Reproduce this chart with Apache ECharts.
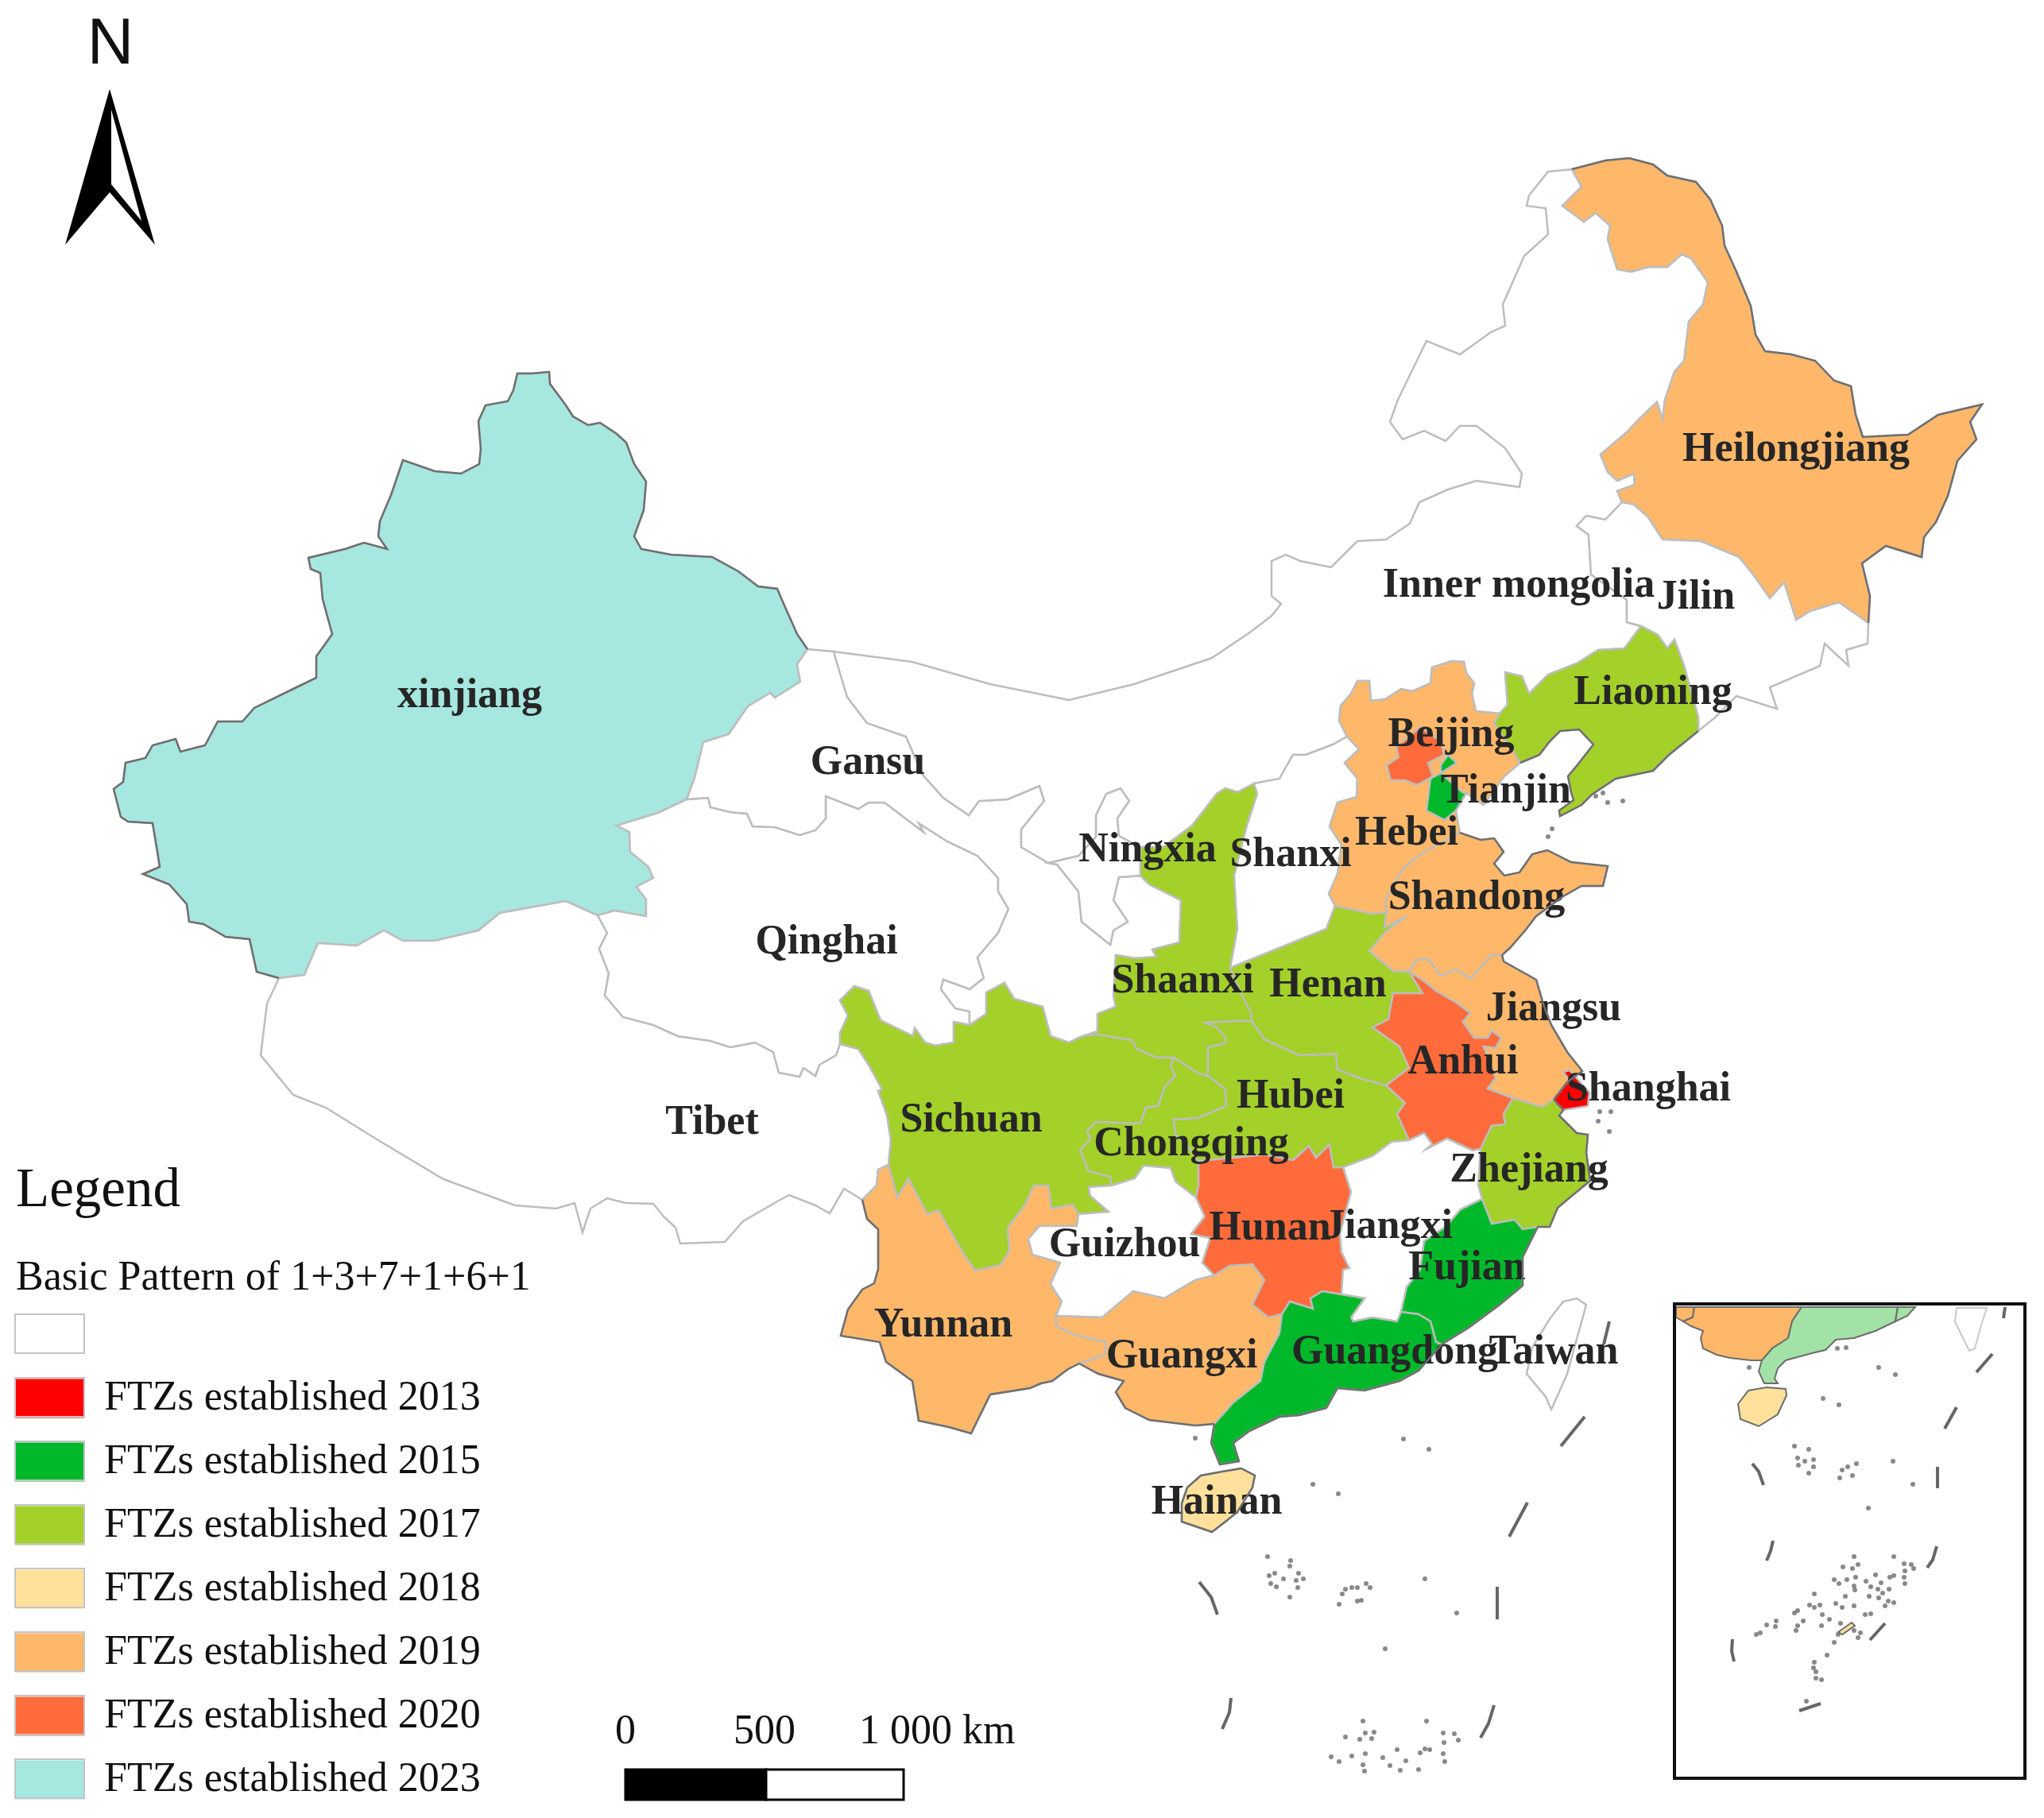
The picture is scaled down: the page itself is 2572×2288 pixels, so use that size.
<!DOCTYPE html>
<html>
<head>
<meta charset="utf-8">
<title>FTZ map</title>
<script src="https://cdn.jsdelivr.net/npm/echarts@6/dist/echarts.min.js"></script>
<style>
  html, body { margin: 0; padding: 0; background: #fff; }
  #main { width: 2572px; height: 2288px; }
</style>
</head>
<body>
<div id="main"></div>
<script>
// legend
const legendYears = [0, 2013, 2015, 2017, 2018, 2019, 2020, 2023]
const legendLabels = [' ', 'FTZs established 2013', 'FTZs established 2015', 'FTZs established 2017', 'FTZs established 2018', 'FTZs established 2019', 'FTZs established 2020', 'FTZs established 2023']
const legendColors = ['#ffffff', '#ff0000', '#00b82a', '#a3d029', '#ffe19c', '#ffb86a', '#ff6b3b', '#a6e7e0']

// year each province got its zone, 0 = none
const provinceNames = ['xinjiang', 'Tibet', 'Qinghai', 'Gansu', 'Ningxia', 'Inner mongolia', 'Shaanxi', 'Shanxi', 'Sichuan', 'Chongqing', 'Yunnan', 'Guizhou', 'Guangxi', 'Hunan', 'Hubei', 'Henan', 'Hebei', 'Shandong', 'Anhui', 'Jiangsu', 'Zhejiang', 'Jiangxi', 'Fujian', 'Guangdong', 'Heilongjiang', 'Jilin', 'Liaoning', 'Beijing', 'Tianjin', 'Shanghai', 'Hainan', 'Taiwan']
const provinceYears = [2023, 0, 0, 0, 0, 0, 2017, 0, 2017, 2017, 2019, 0, 2019, 2020, 2017, 2017, 2019, 2019, 2020, 2019, 2017, 0, 2015, 2015, 2019, 0, 2017, 2020, 2015, 2013, 2018, 0]

// where each province name sits on the picture
const labelSpots = {
  'xinjiang': [591, 877], 'Tibet': [896, 1414], 'Qinghai': [1040, 1187], 'Gansu': [1092, 961], 'Ningxia': [1444, 1071],
  'Inner mongolia': [1911, 738], 'Shaanxi': [1488, 1236], 'Shanxi': [1624, 1077], 'Sichuan': [1222, 1411], 'Chongqing': [1499, 1441],
  'Yunnan': [1187, 1669], 'Guizhou': [1415, 1568], 'Guangxi': [1487, 1708], 'Hunan': [1598, 1547], 'Hubei': [1624, 1381],
  'Henan': [1671, 1241], 'Hebei': [1770, 1050], 'Shandong': [1858, 1131], 'Anhui': [1841, 1338], 'Jiangsu': [1955, 1271],
  'Zhejiang': [1924, 1474], 'Jiangxi': [1747, 1545], 'Fujian': [1846, 1597], 'Guangdong': [1755, 1703], 'Heilongjiang': [2260, 567],
  'Jilin': [2134, 753], 'Liaoning': [2080, 873], 'Beijing': [1826, 926], 'Tianjin': [1895, 997], 'Shanghai': [2074, 1372],
  'Hainan': [1531, 1892], 'Taiwan': [1955, 1703]
}

// province borders, in image pixels; shared borders are one arc
const arcs = {
  xjOuter: [[1016,817],[1003,798],[987,762],[978,741],[954,738],[929,719],[896,701],[844,698],[807,691],[798,675],[810,642],[813,606],[798,584],[788,557],[776,546],[755,532],[740,535],[721,524],[712,510],[692,483],[691,468],[669,470],[651,470],[646,491],[639,505],[611,510],[602,530],[605,565],[603,584],[580,596],[547,593],[507,579],[492,623],[478,656],[476,675],[487,691],[458,683],[434,691],[388,702],[391,716],[403,721],[406,754],[418,798],[406,815],[398,826],[398,853],[369,867],[320,891],[305,908],[274,908],[258,938],[227,946],[221,930],[192,938],[183,954],[158,960],[155,984],[143,993],[152,1028],[161,1034],[192,1036],[198,1072],[201,1091],[180,1100],[213,1113],[235,1138],[238,1160],[256,1163],[284,1179],[314,1182],[323,1223],[351,1231]],
  xjTibet: [[351,1231],[383,1227],[400,1187],[449,1190],[483,1171],[507,1184],[547,1184],[602,1171],[629,1149],[712,1134],[752,1152]],
  xjQinghai: [[752,1152],[773,1146],[813,1153],[813,1132],[801,1116],[822,1105],[816,1091],[793,1072],[792,1047],[776,1039],[828,1023],[864,1006]],
  xjGansu: [[864,1006],[874,979],[885,934],[917,924],[941,889],[969,872],[975,878],[1007,858],[1003,836],[1016,817]],
  tibetOuter: [[351,1231],[336,1263],[328,1328],[369,1378],[410,1394],[476,1435],[558,1484],[648,1517],[700,1521],[723,1514],[733,1551],[743,1521],[764,1508],[787,1514],[822,1515],[835,1531],[850,1545],[856,1565],[912,1563],[935,1537],[978,1512],[993,1504],[1026,1517],[1044,1527],[1062,1496],[1085,1510]],
  tibetYunnan: [[1085,1510],[1103,1492],[1105,1472],[1118,1466]],
  tibetSichuan: [[1118,1466],[1121,1435],[1116,1403],[1105,1373],[1110,1371],[1093,1340],[1080,1320],[1057,1314]],
  tibetQinghai: [[1057,1314],[1052,1328],[1031,1340],[1026,1354],[1011,1344],[1006,1355],[980,1350],[973,1324],[950,1312],[919,1318],[894,1310],[853,1304],[822,1290],[784,1280],[761,1253],[766,1225],[754,1194],[764,1174],[752,1152]],
  qinghaiGansu: [[864,1006],[891,1004],[894,1016],[919,1022],[940,1024],[947,1040],[975,1041],[1006,1051],[1026,1045],[1039,1030],[1039,1002],[1080,1018],[1093,1010],[1113,1010],[1154,1041],[1162,1047],[1156,1036],[1192,1059],[1230,1077],[1256,1105],[1256,1122],[1269,1144],[1256,1174],[1230,1205],[1238,1231],[1220,1245],[1187,1233],[1184,1245],[1202,1269],[1220,1273],[1220,1290]],
  qinghaiSichuan: [[1057,1314],[1057,1300],[1067,1278],[1057,1259],[1075,1241],[1093,1247],[1108,1284],[1149,1304],[1151,1294],[1164,1312],[1177,1316],[1200,1312],[1200,1286],[1220,1290]],
  gansuNorth: [[1016,817],[1049,820]],
  gansuIM: [[1049,820],[1066,877],[1091,910],[1140,927],[1161,975],[1187,1004],[1219,1026],[1232,1008],[1268,1006],[1308,989],[1314,1008],[1285,1044],[1285,1066],[1319,1086]],
  nxGansu: [[1435,1102],[1408,1104],[1401,1133],[1419,1160],[1401,1171],[1397,1189],[1361,1160],[1357,1122],[1330,1088],[1319,1086]],
  gansuShaanxi: [[1435,1102],[1446,1113],[1486,1133],[1484,1186],[1450,1195],[1455,1204],[1428,1206],[1404,1202],[1401,1253],[1404,1267],[1381,1276],[1381,1298],[1363,1304]],
  gansuSichuan: [[1220,1290],[1241,1276],[1241,1249],[1264,1237],[1276,1257],[1312,1267],[1322,1304],[1345,1312],[1363,1304]],
  imNingxia: [[1319,1086],[1357,1077],[1379,1053],[1379,1026],[1392,999],[1410,992],[1421,1008],[1406,1030],[1408,1052],[1435,1066]],
  nxShaanxi: [[1435,1066],[1435,1102]],
  imShaanxi: [[1435,1066],[1464,1066],[1500,1039],[1531,999],[1542,992],[1557,997],[1578,986]],
  shaanxiShanxi: [[1578,986],[1582,999],[1569,1039],[1553,1102],[1557,1169],[1548,1218]],
  shaanxiHenan: [[1548,1218],[1560,1247],[1575,1276],[1575,1285]],
  shaanxiHubei: [[1575,1285],[1555,1285],[1517,1287],[1531,1293],[1542,1305],[1542,1313],[1520,1318],[1520,1354]],
  sichuanShaanxi: [[1363,1304],[1381,1302],[1424,1309],[1430,1320],[1455,1331],[1477,1331]],
  shaanxiChongqing: [[1477,1331],[1508,1351],[1520,1354]],
  sichuanChongqing: [[1477,1331],[1473,1342],[1479,1354],[1466,1367],[1457,1392],[1442,1394],[1435,1414],[1379,1412],[1368,1423],[1372,1434],[1359,1447],[1370,1474],[1397,1481],[1399,1492]],
  sichuanGuizhou: [[1399,1492],[1370,1494],[1372,1505],[1395,1525],[1357,1528]],
  sichuanYunnan: [[1357,1528],[1350,1516],[1323,1521],[1319,1492],[1301,1492],[1290,1516],[1268,1545],[1270,1574],[1259,1592],[1227,1599],[1210,1574],[1181,1523],[1167,1528],[1143,1483],[1129,1507],[1118,1466]],
  yunnanOuter: [[1085,1510],[1091,1534],[1105,1547],[1105,1597],[1100,1615],[1085,1623],[1067,1648],[1058,1681],[1107,1689],[1115,1714],[1148,1738],[1156,1788],[1194,1796],[1222,1804],[1246,1755],[1296,1747],[1310,1741],[1324,1738],[1344,1723],[1358,1716]],
  yunnanGuangxi: [[1358,1716],[1390,1705],[1392,1689],[1353,1680],[1329,1669],[1329,1656]],
  yunnanGuizhou: [[1329,1656],[1336,1638],[1322,1616],[1334,1589],[1299,1579],[1294,1559],[1308,1543],[1355,1543],[1357,1528]],
  chongqingHubei: [[1520,1354],[1526,1358],[1542,1371],[1543,1392],[1508,1407],[1477,1409],[1479,1427],[1497,1445],[1508,1461]],
  chongqingHunan: [[1508,1461],[1508,1492],[1505,1507]],
  chongqingGuizhou: [[1505,1507],[1479,1487],[1473,1470],[1439,1467],[1428,1483],[1399,1492]],
  guizhouGuangxi: [[1329,1656],[1387,1658],[1426,1625],[1465,1634],[1504,1611],[1528,1605]],
  hunanGuizhou: [[1505,1507],[1516,1531],[1499,1553],[1523,1558],[1513,1589],[1528,1605]],
  guangxiHunan: [[1528,1605],[1547,1593],[1576,1591],[1591,1611],[1576,1642],[1596,1658],[1613,1654]],
  hunanGuangdong: [[1688,1629],[1664,1625],[1649,1634],[1652,1647],[1623,1638],[1613,1654]],
  hunanJiangxi: [[1690,1469],[1700,1500],[1686,1553],[1688,1576],[1698,1596],[1690,1598],[1688,1629]],
  hubeiHunan: [[1508,1461],[1591,1453],[1627,1460],[1647,1442],[1656,1457],[1673,1440],[1678,1469],[1690,1469]],
  hubeiJiangxi: [[1690,1469],[1727,1455],[1751,1437],[1773,1435]],
  hubeiAnhui: [[1744,1366],[1768,1388],[1758,1402],[1773,1435]],
  henanHubei: [[1744,1366],[1712,1357],[1683,1346],[1681,1326],[1635,1328],[1591,1308],[1575,1285]],
  imShanxi: [[1578,986],[1610,980],[1627,950],[1643,950],[1677,937],[1695,927]],
  shanxiHebei: [[1695,927],[1710,943],[1692,960],[1708,980],[1707,1003],[1683,1010],[1673,1040],[1688,1063],[1683,1100],[1672,1125],[1680,1140]],
  shanxiHenan: [[1680,1140],[1669,1169],[1615,1191],[1548,1218]],
  henanAnhui: [[1773,1223],[1790,1250],[1753,1250],[1747,1283],[1727,1293],[1761,1317],[1773,1344],[1744,1366]],
  henanShandong: [[1745,1148],[1742,1167],[1770,1153],[1743,1173],[1723,1197],[1753,1222],[1773,1223]],
  hebeiHenan: [[1680,1140],[1727,1150],[1745,1148]],
  imHebei: [[1695,927],[1685,907],[1687,888],[1700,873],[1708,857],[1723,857],[1725,882],[1743,880],[1763,867],[1777,870],[1800,860],[1802,840],[1827,832],[1842,833],[1845,847],[1855,860],[1852,873],[1857,895],[1887,898]],
  liaoningHebei: [[1887,898],[1880,910],[1907,950],[1913,960]],
  hebeiCoast: [[1913,960],[1893,977],[1867,1013],[1845,998],[1832,1020],[1837,1048]],
  hebeiShandong: [[1745,1148],[1743,1133],[1763,1097],[1777,1083],[1797,1070],[1837,1048]],
  shandongCoast: [[1837,1048],[1863,1057],[1880,1055],[1892,1072],[1880,1087],[1893,1102],[1912,1098],[1928,1075],[1947,1070],[1977,1085],[2023,1090],[2017,1115],[1990,1115],[1967,1128],[1933,1153],[1920,1170],[1900,1193],[1890,1202]],
  jiangsuShandong: [[1773,1223],[1782,1208],[1797,1207],[1813,1228],[1833,1220],[1850,1232],[1877,1202],[1890,1202]],
  anhuiJiangsu: [[1773,1223],[1790,1233],[1807,1247],[1833,1262],[1850,1275],[1841,1286],[1855,1306],[1872,1306],[1877,1297],[1889,1306],[1882,1319],[1867,1317],[1882,1357],[1872,1370],[1904,1382]],
  anhuiZhejiang: [[1904,1382],[1892,1402],[1894,1415],[1877,1417],[1863,1446]],
  jiangxiAnhui: [[1773,1435],[1792,1426],[1802,1440],[1795,1446],[1821,1433],[1853,1448],[1863,1446]],
  jiangsuCoast: [[1890,1202],[1892,1210],[1933,1233],[1943,1267],[1952,1290],[1972,1324],[1991,1348],[1972,1362],[1955,1384]],
  jiangsuZhejiang: [[1904,1382],[1940,1393],[1955,1384]],
  zhejiangCoast: [[1955,1384],[1967,1397],[1962,1404],[1984,1426],[1998,1428],[1996,1451],[2001,1486],[1979,1504],[1960,1520],[1950,1544],[1935,1544]],
  fujianZhejiang: [[1865,1509],[1877,1540],[1906,1535],[1916,1547],[1935,1544]],
  jiangxiZhejiang: [[1863,1446],[1860,1491],[1865,1509]],
  jiangxiFujian: [[1865,1509],[1838,1522],[1819,1544],[1792,1562],[1787,1598],[1770,1620],[1763,1651]],
  jiangxiGuangdong: [[1763,1651],[1758,1663],[1727,1658],[1703,1663],[1700,1658],[1717,1634],[1688,1629]],
  fujianCoast: [[1935,1544],[1916,1582],[1916,1618],[1887,1642],[1848,1671],[1814,1692]],
  fujianGuangdong: [[1763,1651],[1785,1654],[1800,1663],[1807,1689],[1814,1692]],
  guangdongCoast: [[1814,1692],[1785,1725],[1761,1738],[1717,1750],[1683,1747],[1669,1772],[1635,1781],[1610,1783],[1572,1801],[1552,1816],[1559,1839],[1535,1843],[1524,1816],[1528,1792]],
  guangdongGuangxi: [[1528,1792],[1552,1765],[1586,1738],[1591,1714],[1610,1678],[1613,1654]],
  guangxiCoast: [[1528,1792],[1504,1794],[1446,1787],[1416,1772],[1404,1752],[1414,1738],[1382,1729],[1358,1716]],
  imOuter: [[1049,820],[1148,833],[1246,861],[1345,881],[1427,861],[1525,828],[1574,795],[1600,775],[1612,760],[1600,750],[1600,706],[1618,698],[1636,706],[1675,714],[1708,681],[1744,679],[1774,659],[1786,632],[1822,616],[1858,605],[1912,613],[1915,596],[1894,564],[1858,536],[1837,536],[1819,555],[1792,542],[1765,553],[1749,531],[1759,503],[1795,429],[1837,446],[1876,418],[1894,410],[1891,383],[1918,322],[1948,295],[1945,262],[1921,259],[1924,246],[1948,216],[1978,213]],
  imHei: [[1978,213],[1990,235],[1966,259],[1993,279],[2008,268],[2026,284],[2023,301],[2035,339],[2053,342],[2074,336],[2098,336],[2116,320],[2128,325],[2149,355],[2143,383],[2125,405],[2119,454],[2107,468],[2095,503],[2092,528],[2085,506],[2062,528],[2047,544],[2014,572],[2023,594],[2035,605],[2056,596],[2057,610],[2035,618],[2041,632]],
  heiOuter: [[1978,213],[2020,202],[2050,199],[2080,207],[2098,221],[2134,229],[2152,251],[2167,284],[2170,309],[2185,342],[2203,385],[2209,421],[2221,442],[2254,446],[2284,454],[2308,479],[2329,486],[2335,522],[2344,550],[2401,547],[2439,522],[2494,509],[2479,531],[2487,553],[2463,580],[2451,624],[2436,657],[2421,676],[2418,701],[2373,687],[2343,709],[2353,750],[2351,784]],
  heiJilin: [[2351,784],[2314,758],[2278,769],[2260,780],[2245,733],[2227,753],[2206,723],[2188,701],[2140,681],[2092,679],[2074,651],[2056,635],[2041,632]],
  imJilin: [[2041,632],[2020,654],[1996,649],[1984,662],[1999,673],[2002,723],[2047,755],[2047,783],[2065,788]],
  jilinOuter: [[2351,784],[2350,810],[2323,818],[2326,838],[2296,810],[2290,838],[2227,865],[2236,892],[2185,876],[2158,903],[2137,920]],
  jilinLiaoning: [[2065,788],[2086,799],[2098,816],[2107,805],[2119,838],[2137,903],[2137,920]],
  imLiaoning: [[2065,788],[2044,816],[2011,818],[1984,835],[1948,849],[1924,873],[1915,851],[1894,846],[1897,887],[1887,898]],
  liaoningCoast: [[2137,920],[2100,950],[2080,970],[2033,980],[2003,1000],[1990,1013],[1963,1027],[1962,1020],[1980,1007],[1977,997],[1973,977],[1987,960],[2005,937],[1987,918],[1963,920],[1950,933],[1937,950],[1913,960]],
  beijingRing: [[1787,915],[1813,933],[1817,950],[1797,960],[1803,977],[1783,988],[1768,982],[1750,982],[1745,963],[1760,953],[1757,940],[1787,915]],
  tianjinRing: [[1822,950],[1833,960],[1813,973],[1840,997],[1845,998],[1832,1020],[1818,1032],[1795,1020],[1800,980],[1813,973],[1813,963],[1822,950]],
  shanghaiRing: [[1967,1349],[1975,1347],[2000,1375],[1998,1392],[1967,1397],[1955,1384],[1972,1362],[1980,1366],[1967,1349]],
  hainanRing: [[1562,1848],[1579,1857],[1576,1872],[1557,1903],[1542,1915],[1525,1928],[1487,1915],[1487,1892],[1494,1872],[1511,1857],[1538,1852],[1562,1848]],
  taiwanRing: [[1984,1634],[1996,1642],[1986,1678],[1972,1729],[1952,1774],[1945,1758],[1921,1729],[1928,1696],[1950,1660],[1967,1638],[1984,1634]]
}

const provinceArcs = {
  'xinjiang': ['xjOuter', 'xjTibet', 'xjQinghai', 'xjGansu'],
  'Tibet': ['tibetOuter', 'tibetYunnan', 'tibetSichuan', 'tibetQinghai', '-xjTibet'],
  'Qinghai': ['-xjQinghai', '-tibetQinghai', 'qinghaiSichuan', '-qinghaiGansu'],
  'Gansu': ['gansuNorth', 'gansuIM', '-nxGansu', 'gansuShaanxi', '-gansuSichuan', '-qinghaiGansu', 'xjGansu'],
  'Ningxia': ['imNingxia', 'nxShaanxi', 'nxGansu'],
  'Inner mongolia': ['imOuter', 'imHei', 'imJilin', 'imLiaoning', '-imHebei', '-imShanxi', '-imShaanxi', '-imNingxia', '-gansuIM'],
  'Shaanxi': ['-gansuShaanxi', '-nxShaanxi', 'imShaanxi', 'shaanxiShanxi', 'shaanxiHenan', 'shaanxiHubei', '-shaanxiChongqing', '-sichuanShaanxi'],
  'Shanxi': ['imShanxi', 'shanxiHebei', 'shanxiHenan', '-shaanxiShanxi'],
  'Sichuan': ['tibetSichuan', 'qinghaiSichuan', 'gansuSichuan', 'sichuanShaanxi', 'sichuanChongqing', 'sichuanGuizhou', 'sichuanYunnan'],
  'Chongqing': ['shaanxiChongqing', 'chongqingHubei', 'chongqingHunan', 'chongqingGuizhou', '-sichuanChongqing'],
  'Yunnan': ['tibetYunnan', '-sichuanYunnan', '-yunnanGuizhou', '-yunnanGuangxi', '-yunnanOuter'],
  'Guizhou': ['sichuanGuizhou', '-yunnanGuizhou', 'guizhouGuangxi', '-hunanGuizhou', 'chongqingGuizhou'],
  'Guangxi': ['guizhouGuangxi', 'guangxiHunan', '-guangdongGuangxi', 'guangxiCoast', 'yunnanGuangxi'],
  'Hunan': ['hubeiHunan', 'hunanJiangxi', 'hunanGuangdong', '-guangxiHunan', '-hunanGuizhou', '-chongqingHunan'],
  'Hubei': ['shaanxiHubei', 'chongqingHubei', 'hubeiHunan', 'hubeiJiangxi', '-hubeiAnhui', 'henanHubei'],
  'Henan': ['shaanxiHenan', '-henanHubei', '-henanAnhui', '-henanShandong', '-hebeiHenan', 'shanxiHenan'],
  'Hebei': ['imHebei', 'liaoningHebei', 'hebeiCoast', '-hebeiShandong', '-hebeiHenan', '-shanxiHebei'],
  'Shandong': ['hebeiShandong', 'shandongCoast', '-jiangsuShandong', '-henanShandong'],
  'Anhui': ['anhuiJiangsu', 'anhuiZhejiang', '-jiangxiAnhui', '-hubeiAnhui', '-henanAnhui'],
  'Jiangsu': ['jiangsuShandong', 'jiangsuCoast', '-jiangsuZhejiang', '-anhuiJiangsu'],
  'Zhejiang': ['jiangsuZhejiang', 'zhejiangCoast', '-fujianZhejiang', '-jiangxiZhejiang', '-anhuiZhejiang'],
  'Jiangxi': ['hubeiJiangxi', 'jiangxiAnhui', 'jiangxiZhejiang', 'jiangxiFujian', 'jiangxiGuangdong', '-hunanJiangxi'],
  'Fujian': ['fujianZhejiang', 'fujianCoast', '-fujianGuangdong', '-jiangxiFujian'],
  'Guangdong': ['-hunanGuangdong', '-jiangxiGuangdong', 'fujianGuangdong', 'guangdongCoast', 'guangdongGuangxi'],
  'Heilongjiang': ['heiOuter', 'heiJilin', '-imHei'],
  'Jilin': ['-heiJilin', 'jilinOuter', '-jilinLiaoning', '-imJilin'],
  'Liaoning': ['jilinLiaoning', 'liaoningCoast', '-liaoningHebei', '-imLiaoning'],
  'Beijing': ['beijingRing'],
  'Tianjin': ['tianjinRing'],
  'Shanghai': ['shanghaiRing'],
  'Hainan': ['hainanRing'],
  'Taiwan': ['taiwanRing']
}

// the box at bottom right
const insetShapes = {
  yunnan: [[2109,1645],[2132,1645],[2130,1658],[2118,1663],[2109,1658],[2109,1645]],
  guangxi: [[2132,1645],[2267,1645],[2255,1663],[2250,1684],[2230,1697],[2217,1712],[2203,1712],[2177,1709],[2160,1705],[2143,1697],[2140,1684],[2143,1675],[2128,1669],[2118,1663],[2130,1658],[2132,1645]],
  guangdong: [[2267,1645],[2388,1645],[2385,1663],[2360,1675],[2333,1684],[2310,1686],[2297,1699],[2280,1703],[2247,1712],[2237,1722],[2233,1735],[2237,1741],[2220,1741],[2213,1726],[2217,1712],[2230,1697],[2250,1684],[2255,1663],[2267,1645]],
  fujian: [[2388,1645],[2410,1645],[2400,1656],[2385,1663],[2388,1645]],
  hainan: [[2247,1748],[2248,1756],[2237,1780],[2213,1795],[2190,1786],[2187,1767],[2200,1750],[2223,1746],[2247,1748]],
  taiwan: [[2462,1646],[2460,1663],[2470,1684],[2478,1700],[2485,1697],[2492,1671],[2500,1646],[2462,1646]],
  reef: [[2313,2054],[2330,2042],[2334,2046],[2318,2057],[2313,2054]]
}
const insetFills = { yunnan: '#ffb86a', guangxi: '#ffb86a', guangdong: '#a3e2a6', fujian: '#a3e2a6', hainan: '#ffe19c', taiwan: '#ffffff', reef: '#ffe19c' }

// islands and dash lines of the south sea
const islands = [[2011,1411],[2027,1399],[2013,1399],[2025,1424],[1953,1043],[1948,1053],[2008,1002],[2017,998],[2023,1010],[2042,1008],
  [1504,1810],[1766,1811],[1798,1824],[1652,1868],[1684,1880],[1595,1959],[1624,1964],[1623,1971],[1597,1983],[1604,1980],[1615,1987],[1599,1993],[1606,1997],[1634,1980],[1631,1989],[1640,1987],[1633,1998],[1623,2010],
  [1693,2000],[1701,1998],[1708,1998],[1719,1993],[1724,1998],[1689,2006],[1685,2019],[1708,2015],[1713,2014],[1793,1987],[1833,2030],[1743,2075],
  [1715,2166],[1795,2166],[1693,2186],[1718,2181],[1729,2180],[1711,2189],[1726,2188],[1816,2181],[1830,2182],[1835,2190],[1817,2193],[1758,2202],[1787,2206],[1793,2201],[1799,2202],[1816,2207],[1675,2211],[1685,2217],[1701,2210],[1718,2207],[1740,2212],[1769,2216],[1818,2217],[1715,2221],[1749,2222],[1762,2228],[1785,2227],[1717,2229],
  [2201,1721],[2364,1721],[2385,1730],[2294,1760],[2314,1768],[2312,1697],[2323,1696],[2258,1820],[2276,1824],[2262,1835],[2271,1839],[2263,1844],[2282,1837],[2282,1846],[2276,1854],[2325,1846],[2336,1842],[2331,1857],[2315,1860],[2318,1850],[2382,1839],[2407,1868],[2351,1898],
  [2333,1959],[2383,1959],[2319,1972],[2331,1974],[2338,1969],[2396,1968],[2405,1969],[2397,1977],[2408,1974],[2308,1988],[2314,1993],[2324,1988],[2335,1985],[2360,1982],[2348,1990],[2378,1985],[2383,1983],[2396,1985],[2397,1993],[2333,1996],[2334,2001],[2354,1997],[2367,1992],[2363,2000],[2377,2000],[2369,2005],[2283,2006],[2322,2009],[2352,2009],[2364,2011],[2310,2018],[2376,2015],[2383,2017],[2372,2021],[2277,2020],[2283,2023],[2290,2020],[2318,2023],[2333,2021],[2262,2027],[2258,2030],[2293,2032],[2347,2032],[2354,2031],[2302,2038],[2269,2040],[2235,2040],[2234,2047],[2223,2045],[2215,2055],[2210,2057],[2262,2046],[2260,2052],[2292,2046],[2316,2043],[2333,2052],[2341,2055],[2313,2057],[2338,2061],[2308,2067],[2299,2083],[2283,2092],[2282,2099],[2285,2104],[2285,2112],[2292,2114],[2273,2141]]
const dashes = [
  [[2025,1663],[2018,1692]], [[1994,1783],[1964,1820]], [[1922,1891],[1899,1934]], [[1884,1997],[1884,2038]],
  [[1880,2146],[1873,2169],[1863,2187]], [[1509,1991],[1524,2010],[1532,2032]], [[1549,2137],[1547,2155],[1538,2176]],
  [[2523,1645],[2521,1659]], [[2507,1704],[2487,1727]], [[2462,1771],[2447,1798]], [[2438,1846],[2438,1873]],
  [[2437,1946],[2432,1963],[2425,1973]], [[2372,2043],[2353,2064]], [[2291,2144],[2264,2153]],
  [[2180,2063],[2179,2078],[2182,2091]], [[2231,1939],[2228,1952],[2223,1964]], [[2205,1842],[2213,1852],[2219,1869]]
]
// international borders and coast come out darker
const darkArcs = ['xjOuter', 'heiOuter', 'yunnanOuter', 'guangxiCoast', 'guangdongCoast', 'fujianCoast', 'zhejiangCoast', 'jiangsuCoast', 'shandongCoast', 'liaoningCoast', 'hainanRing']

const scaleTicks = ['0', '500', '1 000 km']

const serif = '"Liberation Serif", "Times New Roman", serif'
const bounds = [[0, 0], [2572, -2288]]
const flip = p => [p[0], -p[1]]

function ringOf(list) {
  let pts = []
  list.forEach(k => {
    let rev = k[0] == '-'
    let a = arcs[rev ? k.slice(1) : k]
    let line = rev ? a.slice().reverse() : a
    line.forEach(p => pts.push(flip(p)))
  })
  pts.push(pts[0])
  return pts
}

function featureOf(name, ring, cp) {
  return {
    type: 'Feature',
    properties: { name: name, cp: cp },
    geometry: { type: 'Polygon', coordinates: [ring] }
  }
}

const provincesGeo = {
  type: 'FeatureCollection',
  features: Object.keys(provinceArcs).map(n => featureOf(n, ringOf(provinceArcs[n]), flip(labelSpots[n])))
}
const insetGeo = {
  type: 'FeatureCollection',
  features: Object.keys(insetShapes).map(n => featureOf(n, insetShapes[n].map(flip)))
}
// not called 'china': echarts adds its own south sea region to a map with that name
echarts.registerMap('provinces', provincesGeo)
echarts.registerMap('inset', insetGeo)

// swatch outline, the visualMap rects have none
const swatchX = 19, swatchY = 1654, swatchW = 87, swatchH = 49, swatchStep = 80
const graphics = []
legendYears.forEach((y, i) => {
  graphics.push({
    type: 'rect', z: 50, silent: true,
    shape: { x: swatchX, y: swatchY + i * swatchStep, width: swatchW, height: swatchH },
    style: { fill: 'none', stroke: '#c4c4c4', lineWidth: 2 }
  })
})
function addText(text, x, y, size, align, font) {
  graphics.push({
    type: 'text', z: 50, silent: true, x: x, y: y,
    style: { text: text, fill: '#111', font: size + 'px ' + (font || serif), textAlign: align || 'left', textVerticalAlign: 'bottom' }
  })
}
addText('Legend', 20, 1534, 69)
addText('Basic Pattern of 1+3+7+1+6+1', 20, 1635, 52)
addText(scaleTicks[0], 787, 2206, 52, 'center')
addText(scaleTicks[1], 962, 2206, 52, 'center')
addText(scaleTicks[2], 1081, 2206, 52)
addText('N', 139, 98, 81, 'center', '"Liberation Sans", Arial, sans-serif')

// scale bar
graphics.push({ type: 'rect', z: 50, silent: true, shape: { x: 787, y: 2227, width: 177, height: 38 }, style: { fill: '#000', stroke: '#000', lineWidth: 3 } })
graphics.push({ type: 'rect', z: 50, silent: true, shape: { x: 964, y: 2227, width: 173, height: 38 }, style: { fill: '#fff', stroke: '#000', lineWidth: 3 } })
// inset frame
graphics.push({ type: 'rect', z: 50, silent: true, shape: { x: 2107, y: 1641, width: 441, height: 597 }, style: { fill: 'none', stroke: '#111', lineWidth: 4 } })
// north arrow
graphics.push({ type: 'polygon', z: 50, silent: true, shape: { points: [[138, 112], [82, 308], [138, 242], [195, 308]] }, style: { fill: '#000' } })
graphics.push({ type: 'polygon', z: 51, silent: true, shape: { points: [[140, 138], [140, 232], [178, 278]] }, style: { fill: '#fff' } })

const chart = echarts.init(document.getElementById('main'))
chart.setOption({
  backgroundColor: '#fff',
  animation: false,
  geo: {
    map: 'inset',
    silent: true,
    aspectScale: 1,
    left: 0, top: 0, width: 2572, height: 2288,
    boundingCoords: bounds,
    itemStyle: { areaColor: '#fff', borderColor: '#777', borderWidth: 2 },
    regions: Object.keys(insetFills).map(n => ({
      name: n,
      itemStyle: { areaColor: insetFills[n], borderColor: n == 'taiwan' ? '#c8c8c8' : '#6d6d6d', borderWidth: 2 }
    }))
  },
  visualMap: {
    type: 'piecewise',
    seriesIndex: 0,
    orient: 'vertical',
    left: swatchX,
    top: swatchY,
    padding: 0,
    itemWidth: swatchW,
    itemHeight: swatchH,
    itemGap: swatchStep - 52,
    itemSymbol: 'rect',
    textGap: 25,
    selectedMode: false,
    hoverLink: false,
    inverse: true,
    textStyle: { fontFamily: serif, fontSize: 52, color: '#111' },
    pieces: legendYears.map((y, i) => ({ value: y, label: legendLabels[i], color: legendColors[i] }))
  },
  graphic: graphics,
  series: [
    {
      type: 'map',
      map: 'provinces',
      silent: true,
      aspectScale: 1,
      left: 0, top: 0, width: 2572, height: 2288,
      boundingCoords: bounds,
      z: 3,
      itemStyle: { borderColor: '#bdbdbd', borderWidth: 2.5 },
      label: { show: true, color: '#262626', fontFamily: serif, fontWeight: 'bold', fontSize: 52 },
      emphasis: { disabled: true },
      data: provinceNames.map((n, i) => ({ name: n, value: provinceYears[i] }))
    },
    {
      type: 'lines',
      coordinateSystem: 'geo',
      polyline: true,
      silent: true,
      z: 4,
      lineStyle: { color: '#6f6f6f', width: 2.5, opacity: 1 },
      data: darkArcs.map(k => ({ coords: arcs[k].map(flip) }))
    },
    {
      type: 'lines',
      coordinateSystem: 'geo',
      polyline: true,
      silent: true,
      z: 4,
      lineStyle: { color: '#666', width: 4, opacity: 1 },
      data: dashes.map(d => ({ coords: d.map(flip) }))
    },
    {
      type: 'scatter',
      coordinateSystem: 'geo',
      silent: true,
      z: 4,
      symbolSize: 6,
      itemStyle: { color: '#6b6b6b' },
      data: islands.map(flip)
    }
  ]
})
</script>
</body>
</html>
